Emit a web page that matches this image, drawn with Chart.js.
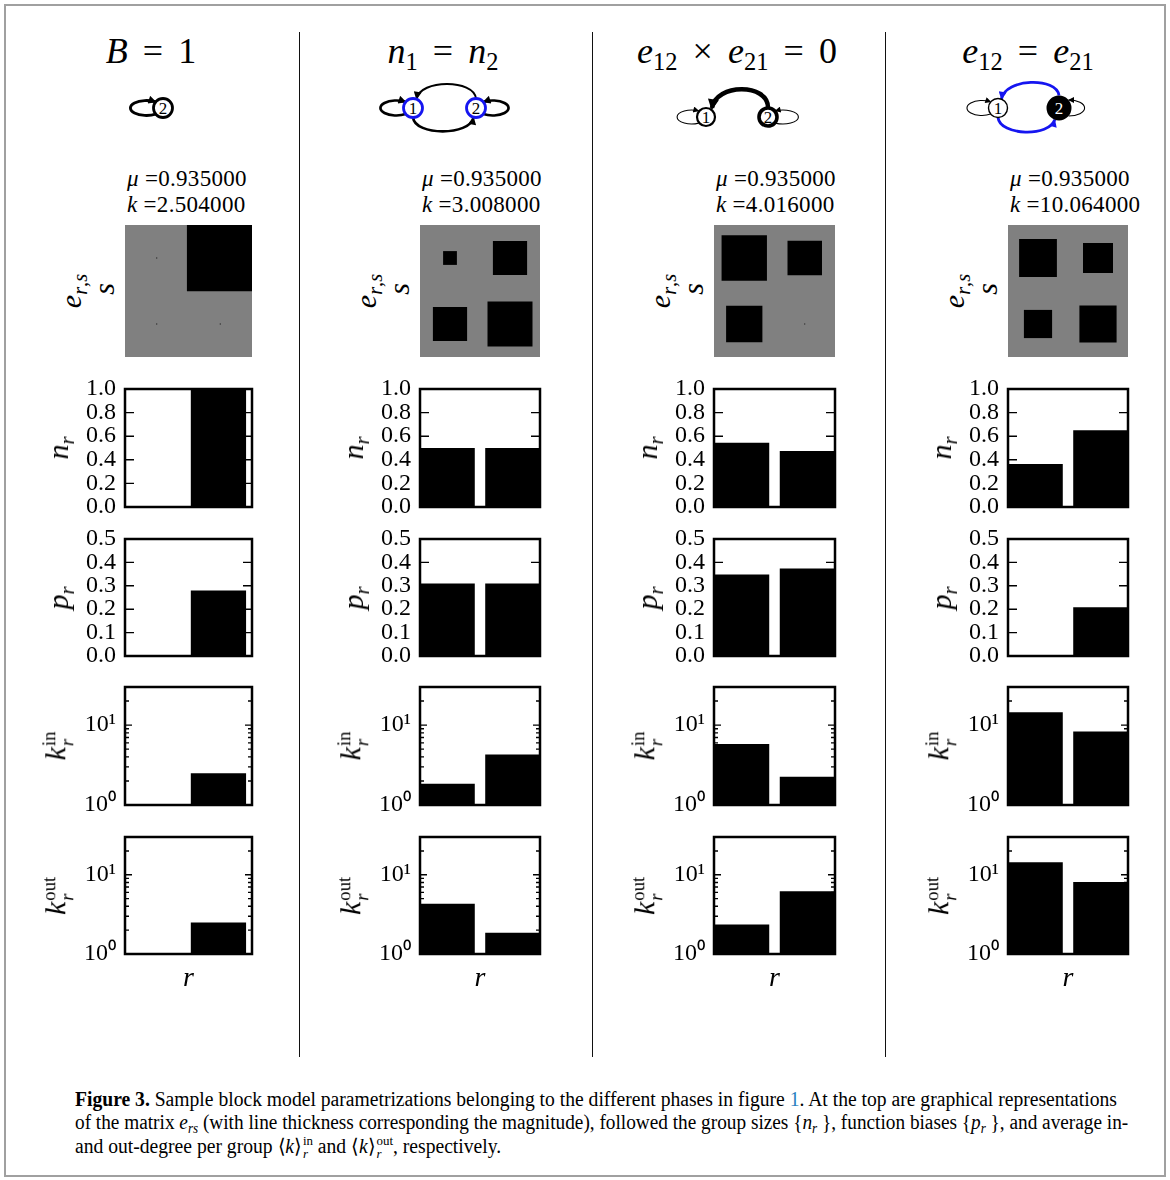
<!DOCTYPE html>
<html>
<head>
<meta charset="utf-8">
<script src="https://cdn.jsdelivr.net/npm/chart.js@4.4.1/dist/chart.umd.min.js"></script>
<style>
  body { margin: 0; background: #fff; }
  #page { position: relative; width: 1170px; height: 1180px; overflow: hidden; font-family: 'Liberation Serif', serif; color: #000; }
  .frame { position: absolute; left: 4px; top: 4px; width: 1158px; height: 1169px; border: 2px solid #a0a0a0; }
  .sep { position: absolute; top: 32px; height: 1025px; width: 1px; background: #111; }
  .title { position: absolute; top: 33px; font-size: 36px; line-height: 1; white-space: nowrap; transform: translateX(-50%); }
  .title .eq { margin: 0 0.42em; font-style: normal; }
  sub, sup { font-size: 0.68em; line-height: 0; }
  sub { vertical-align: -0.3em; }
  .stats { position: absolute; top: 166px; font-size: 23px; line-height: 26px; white-space: nowrap; letter-spacing: 0.3px; }
  .ylab { position: absolute; font-size: 30px; line-height: 1; white-space: nowrap; transform: translate(-50%, -50%) rotate(-90deg); }
  .xlab { position: absolute; font-size: 28px; line-height: 1; transform: translate(-50%, -50%); }
  .ss { display: inline-block; vertical-align: -0.42em; font-size: 0.62em; line-height: 0.95; margin-left: 1px; }
  .ss span { display: block; }
  .cap { position: absolute; left: 75px; font-size: 20px; line-height: 1; white-space: nowrap; transform-origin: 0 0; }
  .cap .lnk { color: #2a7fc0; }
  .cap .ss { vertical-align: -0.38em; font-size: 0.66em; }
  canvas { position: absolute; }
</style>
</head>
<body>
<div id="page">
  <div class="frame"></div>
  <div class="sep" style="left:299px"></div>
  <div class="sep" style="left:592px"></div>
  <div class="sep" style="left:885px"></div>

  <svg width="1170" height="160" style="position:absolute;left:0;top:0" font-family="Liberation Serif, serif">
    <defs>
      <marker id="ak" viewBox="0 0 10 10" refX="9" refY="5" markerUnits="userSpaceOnUse" markerWidth="9" markerHeight="8" orient="auto"><path d="M0,0 L10,5 L0,10 z" fill="#000"/></marker>
      <marker id="aks" viewBox="0 0 10 10" refX="9" refY="5" markerUnits="userSpaceOnUse" markerWidth="7" markerHeight="6" orient="auto"><path d="M0,0 L10,5 L0,10 z" fill="#000"/></marker>
      <marker id="akl" viewBox="0 0 10 10" refX="8" refY="5" markerUnits="userSpaceOnUse" markerWidth="14" markerHeight="11" orient="auto"><path d="M0,0 L10,5 L0,10 z" fill="#000"/></marker>
      <marker id="ab" viewBox="0 0 10 10" refX="9" refY="5" markerUnits="userSpaceOnUse" markerWidth="10" markerHeight="8" orient="auto"><path d="M0,0 L10,5 L0,10 z" fill="#1515f0"/></marker>
    </defs>
    <g fill="none">
      <!-- B = 1 -->
      <path d="M155.7 114.1 A16 7.5 0 1 1 155.7 101.9" stroke="#000" stroke-width="2.8" marker-end="url(#ak)"/>
      <!-- n1 = n2 -->
      <path d="M405.7 114.1 A16 7.5 0 1 1 405.7 101.9" stroke="#000" stroke-width="2.6" marker-end="url(#ak)"/>
      <path d="M483.3 114.1 A16 7.5 0 1 0 483.3 101.9" stroke="#000" stroke-width="2.6" marker-end="url(#ak)"/>
      <path d="M476 98.5 C474 79, 420 79, 416.5 99" stroke="#000" stroke-width="2" marker-end="url(#ak)"/>
      <path d="M413 117.5 C415 136, 470 136, 473.5 117.5" stroke="#000" stroke-width="2.6" marker-end="url(#ak)"/>
      <!-- e12 x e21 = 0 -->
      <path d="M698.7 123.1 A14.5 7 0 1 1 698.7 110.9" stroke="#000" stroke-width="1.1" marker-end="url(#aks)"/>
      <path d="M775.3 123.1 A15.5 7 0 1 0 775.3 110.9" stroke="#000" stroke-width="1.1" marker-end="url(#aks)"/>
      <path d="M768 107.5 C768 83, 716 83, 712 108" stroke="#000" stroke-width="4.5" marker-end="url(#akl)"/>
      <!-- e12 = e21 -->
      <path d="M990.7 114.1 A15 7.5 0 1 1 990.7 101.9" stroke="#000" stroke-width="1.1" marker-end="url(#aks)"/>
      <path d="M1068.6 116 A16 8 0 1 0 1068.6 100" stroke="#000" stroke-width="1.1" marker-end="url(#aks)"/>
      <path d="M1059 95.5 C1057 77, 1005 78, 1001.5 99" stroke="#1515f0" stroke-width="2.8" marker-end="url(#ab)"/>
      <path d="M998 117.5 C1000 136, 1050 137, 1054.7 119.7" stroke="#1515f0" stroke-width="2.8" marker-end="url(#ab)"/>
    </g>
    <g font-size="17" text-anchor="middle">
      <circle cx="163" cy="108" r="9.5" fill="#fff" stroke="#000" stroke-width="2.8"/><text x="163" y="114">2</text>
      <circle cx="413" cy="108" r="9.5" fill="#fff" stroke="#1515f0" stroke-width="2.8"/><text x="413" y="114">1</text>
      <circle cx="476" cy="108" r="9.5" fill="#fff" stroke="#1515f0" stroke-width="2.8"/><text x="476" y="114">2</text>
      <circle cx="706" cy="117" r="9" fill="#fff" stroke="#000" stroke-width="2.2"/><text x="706" y="123">1</text>
      <circle cx="768" cy="117" r="9" fill="#fff" stroke="#000" stroke-width="3.6"/><text x="768" y="123">2</text>
      <circle cx="998" cy="108" r="9.5" fill="#fff" stroke="#000" stroke-width="1.4"/><text x="998" y="114">1</text>
      <circle cx="1059" cy="108" r="9.5" fill="#000" stroke="#000" stroke-width="6"/><text x="1059" y="114" fill="#fff">2</text>
    </g>
  </svg>

  <div class="cap" id="cap1" style="top:1089px"><b>Figure 3.</b> Sample block model parametrizations belonging to the different phases in figure <span class="lnk">1</span>. At the top are graphical representations</div>
  <div class="cap" id="cap2" style="top:1112px">of the matrix <i>e<sub>rs</sub></i> (with line thickness corresponding the magnitude), followed the group sizes {<i>n<sub>r</sub></i> }, function biases {<i>p<sub>r</sub></i> }, and average in-</div>
  <div class="cap" id="cap3" style="top:1135px">and out-degree per group ⟨<i>k</i>⟩<span class="ss"><span>in</span><span><i>r</i></span></span> and ⟨<i>k</i>⟩<span class="ss"><span>out</span><span><i>r</i></span></span>, respectively.</div>
</div>

<script>
// groups r = 1, 2 and the four phases (columns)
const groups = ['1', '2']
const phaseTitles = [
  '<i>B</i><span class="eq">=</span>1',
  '<i>n</i><sub>1</sub><span class="eq">=</span><i>n</i><sub>2</sub>',
  '<i>e</i><sub>12</sub><span class="eq">×</span><i>e</i><sub>21</sub><span class="eq">=</span>0',
  '<i>e</i><sub>12</sub><span class="eq">=</span><i>e</i><sub>21</sub>'
]
const muValues = [0.935, 0.935, 0.935, 0.935]
const kValues = [2.504, 3.008, 4.016, 10.064]

// e_rs block sizes (fraction of a cell), rows r = 1, 2 top to bottom
const eMatrix = [
  [[0.015, 1.05], [0.015, 0.015]],
  [[0.23, 0.57], [0.57, 0.75]],
  [[0.75, 0.57], [0.6, 0.015]],
  [[0.63, 0.5], [0.47, 0.62]]
]
const groupSizes = [[0, 1.0], [0.5, 0.5], [0.545, 0.475], [0.365, 0.65]]
const funcBiases = [[0, 0.28], [0.31, 0.31], [0.348, 0.374], [0, 0.208]]
const kIn = [[1, 2.5], [1.85, 4.3], [5.8, 2.25], [14.5, 8.3]]
const kOut = [[1, 2.5], [4.3, 1.85], [2.35, 6.2], [14.4, 8.1]]

const nTicks = [0, 0.2, 0.4, 0.6, 0.8, 1.0]
const pTicks = [0, 0.1, 0.2, 0.3, 0.4, 0.5]
const kTicks = [1, 2, 3, 4, 5, 6, 7, 8, 9, 10, 20, 30]

// bar centres on the r axis and axis extent per column
const barX = [0.42, 1.42]
const xMax = [1.93, 1.84, 1.84, 1.84]

// layout
const colLeft = [125, 420, 714, 1008]
const colWidth = [127, 120, 121, 120]
const colCenter = [151, 443, 737, 1028]
const AX = 62, PAD = 24, RP = 6
const tickFont = { family: "'Liberation Serif', serif", size: 24 }

const page = document.getElementById('page')

const framePlugin = {
  id: 'frame',
  afterDatasetsDraw(chart, args, opts) {
    const { ctx, chartArea: a } = chart
    const y = chart.scales.y
    ctx.save()
    ctx.strokeStyle = '#000'
    ctx.lineWidth = 1.4
    y.ticks.forEach(t => {
      const py = y.getPixelForValue(t.value)
      const len = opts.log ? (t.major ? 7 : 4) : 9
      ctx.beginPath()
      ctx.moveTo(a.left, py); ctx.lineTo(a.left + len, py)
      ctx.moveTo(a.right, py); ctx.lineTo(a.right - len, py)
      ctx.stroke()
    })
    ctx.lineWidth = 2.5
    ctx.strokeRect(a.left, a.top, a.right - a.left, a.bottom - a.top)
    ctx.restore()
  }
}

const grayPlugin = {
  id: 'gray',
  beforeDatasetsDraw(chart) {
    const { ctx, chartArea: a } = chart
    ctx.save()
    ctx.fillStyle = '#808080'
    ctx.fillRect(a.left, a.top, a.right - a.left, a.bottom - a.top)
    ctx.restore()
  }
}

function addLabel(cls, html, x, y) {
  const d = document.createElement('div')
  d.className = cls
  d.innerHTML = html
  d.style.left = x + 'px'
  d.style.top = y + 'px'
  page.appendChild(d)
}

function makeCanvas(left, top, w, h) {
  const cv = document.createElement('canvas')
  cv.width = w
  cv.height = h
  cv.style.left = left + 'px'
  cv.style.top = top + 'px'
  cv.style.width = w + 'px'
  cv.style.height = h + 'px'
  page.appendChild(cv)
  return cv
}

function matrixPanel(c) {
  const cv = makeCanvas(colLeft[c], 225, colWidth[c], 132)
  const cells = []
  eMatrix[c].forEach((row, r) => row.forEach((v, s) => cells.push({ x: s + 0.5, y: 1.5 - r, v })))
  const radius = ctx => {
    const a = ctx.chart.chartArea
    if (!a || !ctx.raw) return 0
    return ctx.raw.v * ((a.right - a.left) / 2) / Math.SQRT2
  }
  new Chart(cv, {
    type: 'scatter',
    data: { datasets: [{ data: cells, backgroundColor: '#000', borderWidth: 0, pointStyle: 'rect', pointRadius: radius, pointHoverRadius: radius, clip: 0 }] },
    options: {
      responsive: false, animation: false, events: [],
      layout: { padding: 0 },
      plugins: { legend: { display: false }, tooltip: { enabled: false } },
      scales: {
        x: { min: 0, max: 2, display: false },
        y: { min: 0, max: 2, display: false }
      }
    },
    plugins: [grayPlugin]
  })
}

function barPanel(c, top, height, values, log, ticks, yMin, yMax, fmt) {
  const W = colWidth[c]
  const cv = makeCanvas(colLeft[c] - AX, top - PAD, AX + W + RP, height + 2 * PAD)
  new Chart(cv, {
    type: 'bar',
    data: {
      datasets: [{
        data: groups.map((g, i) => ({ x: barX[i], y: values[i] })),
        backgroundColor: '#000', borderWidth: 0,
        barPercentage: 0.84, categoryPercentage: 1
      }]
    },
    options: {
      responsive: false, animation: false, events: [],
      layout: { padding: { left: 0, right: RP, top: PAD, bottom: PAD } },
      plugins: { legend: { display: false }, tooltip: { enabled: false }, frame: { log } },
      scales: {
        x: { type: 'linear', min: 0, max: xMax[c], display: false, afterBuildTicks: s => { s.ticks = [] } },
        y: {
          type: log ? 'logarithmic' : 'linear',
          min: yMin, max: yMax,
          afterBuildTicks: s => { s.ticks = ticks.map(v => ({ value: v, major: v === 1 || v === 10 })) },
          afterFit: s => { s.width = AX },
          grid: { display: false, drawTicks: false },
          border: { display: false },
          ticks: { autoSkip: false, padding: 9, color: '#000', font: tickFont, callback: fmt }
        }
      }
    },
    plugins: [framePlugin]
  })
}

const linFmt = v => Number(v).toFixed(1)
const logFmt = v => v === 1 ? '10⁰' : v === 10 ? '10¹' : ''

const rows = [
  { top: 389, h: 118, vals: groupSizes, log: false, ticks: nTicks, min: 0, max: 1, fmt: linFmt, lab: '<i>n</i><sub><i>r</i></sub>' },
  { top: 539, h: 117, vals: funcBiases, log: false, ticks: pTicks, min: 0, max: 0.5, fmt: linFmt, lab: '<i>p</i><sub><i>r</i></sub>' },
  { top: 687, h: 118, vals: kIn, log: true, ticks: kTicks, min: 1, max: 30, fmt: logFmt, lab: '<i>k</i><span class="ss"><span>in</span><span><i>r</i></span></span>' },
  { top: 837, h: 117, vals: kOut, log: true, ticks: kTicks, min: 1, max: 30, fmt: logFmt, lab: '<i>k</i><span class="ss"><span>out</span><span><i>r</i></span></span>' }
]

for (let c = 0; c < 4; c++) {
  addLabel('title', phaseTitles[c], colCenter[c], 33)
  addLabel('stats', '<i>μ</i> =' + muValues[c].toFixed(6) + '<br><i>k</i> =' + kValues[c].toFixed(6), colLeft[c] + 2, 166)
  matrixPanel(c)
  addLabel('ylab', '<i>e</i><sub><i>r</i>,<i>s</i></sub>', colLeft[c] - 54, 291)
  addLabel('ylab', '<i>s</i>', colLeft[c] - 21, 289)
  rows.forEach(r => {
    barPanel(c, r.top, r.h, r.vals[c], r.log, r.ticks, r.min, r.max, r.fmt)
    addLabel('ylab', r.lab, colLeft[c] - 67, r.top + r.h / 2)
  })
  addLabel('xlab', '<i>r</i>', colLeft[c] + colWidth[c] / 2, 977)
}

// squeeze the caption lines to the width of the condensed journal font
function fitCaption() {
  const c1 = document.getElementById('cap1')
  const c2 = document.getElementById('cap2')
  const c3 = document.getElementById('cap3')
  const s1 = 1042 / c1.scrollWidth
  const s2 = 1053 / c2.scrollWidth
  c1.style.transform = `scaleX(${s1})`
  c2.style.transform = `scaleX(${s2})`
  c3.style.transform = `scaleX(${s1})`
}
fitCaption()
</script>
</body>
</html>
